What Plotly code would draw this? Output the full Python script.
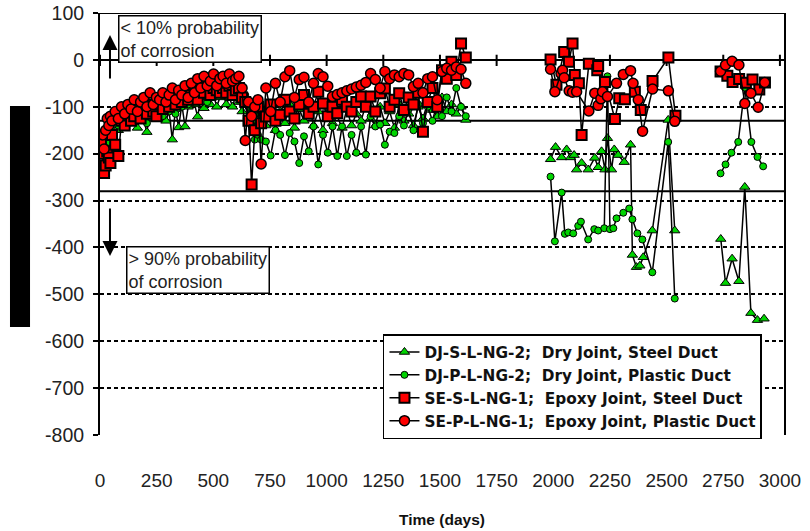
import plotly.graph_objects as go

# ---------------- data ----------------
days_early = [4, 11, 18, 25, 32, 39, 46, 53,
              67, 81, 95, 109, 123, 137,
              151, 165, 179, 193, 207, 221, 235, 249,
              263, 277, 291, 305, 319, 333, 347, 361, 375, 389,
              403, 417, 431, 445, 459, 473, 487, 501, 515, 529,
              543, 557, 571, 585, 599, 613, 627, 641, 655, 669, 683, 697,
              711, 732, 753, 774, 795, 816, 837, 858, 879, 900, 921, 942, 963, 984,
              1005, 1026, 1047, 1068, 1089, 1110, 1131, 1152, 1173, 1194, 1215, 1236,
              1257, 1278, 1299, 1320, 1341, 1362, 1383, 1404, 1425, 1446, 1467, 1488,
              1509, 1530, 1551, 1572, 1593, 1614]

djs_early = [-190, -175, -200, -165, -150, -170, -145, -160,
             -130, -150, -120, -145, -115, -135,
             -110, -145, -105, -130, -154, -110, -125, -100,
             -115, -100, -130, -110, -170, -105, -144, -95, -142, -100,
             -66, -95, -121, -80, -103, -70, -95, -75, -100, -80,
             -70, -95, -80, -100, -75, -90, -110, -85, -120, -100, -130, -115,
             -120, -140, -100, -150, -110, -135, -95, -145, -105, -130, -90, -140, -110, -150,
             -100, -135, -120, -145, -105, -140, -115, -130, -95, -125, -140, -100,
             -135, -110, -145, -95, -130, -115, -140, -100, -125, -90, -107, -121,
             -80, -110, -95, -115, -100, -128]
djs_late1_days = [1988, 2010, 2037, 2059, 2076, 2092, 2103, 2125, 2154, 2183,
                  2198, 2213, 2228, 2239, 2257, 2269, 2286, 2313, 2341, 2349,
                  2367, 2382, 2397, 2437, 2507, 2536]
djs_late1 = [-212, -186, -208, -191, -208, -203, -234, -220, -234, -209,
             -229, -195, -234, -167, -234, -191, -203, -218, -181, -416,
             -442, -439, -421, -364, -128, -364]
djs_late2_days = [2739, 2760, 2789, 2819, 2845, 2872, 2901, 2930]
djs_late2 = [-382, -476, -424, -472, -271, -540, -555, -552]

djp_early = [-180, -170, -195, -160, -155, -175, -140, -150,
             -125, -140, -115, -135, -110, -125,
             -105, -130, -100, -120, -135, -105, -115, -95,
             -100, -120, -90, -110, -85, -115, -95, -100, -80, -95,
             -70, -85, -60, -80, -65, -90, -55, -75, -60, -70,
             -55, -70, -50, -65, -60, -55, -70, -75, -100, -140, -170, -160,
             -170, -174, -204, -150, -160, -203, -156, -174, -220, -163, -195, -142, -223, -160,
             -198, -142, -205, -142, -205, -160, -198, -142, -202, -121, -142, -138,
             -181, -153, -156, -120, -140, -105, -150, -95, -135, -100, -130, -90,
             -120, -80, -110, -60, -100, -120]
djp_late1_days = [1988, 2007, 2037, 2051, 2066, 2088, 2110, 2122, 2154, 2181,
                  2198, 2225, 2239, 2250, 2265, 2279, 2309, 2335, 2349, 2371,
                  2393, 2437, 2507, 2536]
djp_late1 = [-249, -387, -283, -371, -368, -370, -354, -345, -383, -361,
             -364, -359, -35, -361, -359, -338, -326, -317, -340, -370,
             -383, -453, -175, -509]
djp_late2_days = [2738, 2760, 2786, 2816, 2845, 2874, 2901, 2926]
djp_late2 = [-242, -223, -198, -175, -59, -175, -207, -227]

ses_early = [-181, -200, -241, -225, -195, -208, -220, -160,
             -181, -205, -130, -140, -115, -130,
             -120, -105, -125, -100, -115, -95, -110, -120,
             -95, -105, -85, -100, -80, -95, -75, -90, -70, -85,
             -75, -65, -85, -60, -70, -55, -75, -60, -65, -70,
             -60, -70, -55, -75, -65, -60, -80, -90, -130, -266, -150, -100,
             -135, -121, -95, -130, -117, -85, -110, -125, -95, -75, -115, -100, -68, -93,
             -120, -100, -114, -85, -100, -110, -90, -78, -100, -78, -110, -71,
             -61, -100, -85, -71, -107, -80, -95, -70, -153, -90, -60, -100,
             -22, -40, -4, -32, 35, 5]
ses_late1_days = [1988, 2014, 2048, 2069, 2085, 2095, 2113, 2125, 2157, 2194,
                  2198, 2228, 2272, 2291, 2316, 2360, 2386, 2438, 2508, 2539]
ses_late1 = [1, -53, 17, -4, 35, -32, -50, -160, -8, -22,
             -13, -47, -126, -82, -84, -68, -107, -45, 5, -119]
ses_late2_days = [2738, 2768, 2791, 2820, 2850, 2879, 2909, 2934]
ses_late2 = [-25, -34, -47, -41, -49, -42, -63, -48]

sep_early = [-175, -160, -190, -150, -125, -140, -120, -130,
             -110, -125, -100, -115, -95, -105,
             -85, -110, -90, -80, -100, -70, -95, -80,
             -85, -70, -90, -75, -60, -85, -65, -75, -55, -80,
             -50, -70, -40, -60, -35, -55, -45, -30, -55, -40,
             -35, -50, -30, -45, -40, -35, -60, -172, -90, -120, -100, -85,
             -222, -60, -110, -50, -90, -36, -23, -80, -42, -37, -90, -50, -29, -36,
             -56, -78, -74, -70, -66, -62, -58, -54, -48, -29, -42, -60,
             -25, -40, -32, -36, -29, -32, -57, -50, -70, -40, -36, -85,
             -25, -18, -22, -15, -20, -50]
sep_late1_days = [1988, 2007, 2034, 2041, 2048, 2070, 2085, 2103, 2157, 2183,
                  2198, 2210, 2217, 2239, 2279, 2309, 2341, 2352, 2375, 2394,
                  2438, 2508, 2536]
sep_late1 = [-20, -68, -29, -22, -38, -66, -69, -68, -109, -71,
             -97, -83, -68, -78, -50, -31, -23, -50, -85, -152,
             -62, -66, -131]
sep_late2_days = [2738, 2760, 2789, 2819, 2845, 2872, 2904, 2933]
sep_late2 = [-24, -11, -3, -11, -93, -71, -101, -48]

series_names = ["DJ-S-L-NG-2;\u00a0 Dry Joint, Steel Duct",
                "DJ-P-L-NG-2;\u00a0 Dry Joint, Plastic Duct",
                "SE-S-L-NG-1;\u00a0 Epoxy Joint, Steel Duct",
                "SE-P-L-NG-1;\u00a0 Epoxy Joint, Plastic Duct"]

x_ticks = [0, 250, 500, 750, 1000, 1250, 1500, 1750, 2000, 2250, 2500, 2750, 3000]
y_ticks = [100, 0, -100, -200, -300, -400, -500, -600, -700, -800]
y_tick_labels = ["100", "0", "-100", "-200", "-300", "-400", "-500", "-600", "-700", "-800"]
thresholds = [-130, -280]

FONT = "Liberation Sans, Arial, sans-serif"
WIDE = "DejaVu Sans, Verdana, sans-serif"


def join(e, d1, v1, d2, v2):
    xs = list(days_early) + [None] + list(d1) + [None] + list(d2)
    ys = list(e) + [None] + list(v1) + [None] + list(v2)
    return xs, ys


GREEN = "#00d400"
RED = "#ff0000"
styles = [
    dict(symbol="triangle-up", size=9, color=GREEN, line=dict(color="black", width=1)),
    dict(symbol="circle", size=7, color=GREEN, line=dict(color="black", width=1)),
    dict(symbol="square", size=10, color=RED, line=dict(color="black", width=2)),
    dict(symbol="circle", size=10, color=RED, line=dict(color="black", width=1.5)),
]
data = [
    join(djs_early, djs_late1_days, djs_late1, djs_late2_days, djs_late2),
    join(djp_early, djp_late1_days, djp_late1, djp_late2_days, djp_late2),
    join(ses_early, ses_late1_days, ses_late1, ses_late2_days, ses_late2),
    join(sep_early, sep_late1_days, sep_late1, sep_late2_days, sep_late2),
]

fig = go.Figure()
for (xs, ys), name, mk in zip(data, series_names, styles):
    fig.add_trace(go.Scatter(x=xs, y=ys, name=name, mode="lines+markers",
                             line=dict(color="black", width=1.5), marker=mk))

shapes = []
# black strip on the left
shapes.append(dict(type="rect", xref="paper", yref="paper",
                   x0=-0.1316, x1=-0.1023, y0=0.256, y1=0.7796,
                   fillcolor="black", line=dict(width=0), layer="above"))
# axis line at zero, top border and threshold lines
for yv in [0, 100] + thresholds:
    shapes.append(dict(type="line", xref="paper", yref="y", x0=0, x1=1, y0=yv, y1=yv,
                       line=dict(color="black", width=2), layer="below"))
# tick marks crossing the zero line
for tv in x_ticks:
    shapes.append(dict(type="line", xref="x", yref="y", x0=tv, x1=tv, y0=-13, y1=11,
                       line=dict(color="black", width=2), layer="below"))

ann_font = dict(family=FONT, size=18, color="#222")
annotations = [
    dict(xref="paper", yref="paper", x=0.026, y=0.9953, xanchor="left", yanchor="top",
         text="< 10% probability<br>of corrosion", showarrow=False, align="left",
         font=ann_font, bgcolor="white", bordercolor="black", borderwidth=1.5, borderpad=1),
    dict(xref="paper", yref="paper", x=0.038, y=0.4478, xanchor="left", yanchor="top",
         text="> 90% probability<br>of corrosion", showarrow=False, align="left",
         font=ann_font, bgcolor="white", bordercolor="black", borderwidth=1.5, borderpad=1),
    dict(xref="paper", yref="paper", x=0.0146, y=0.9479, ax=0, ay=45,
         text="", showarrow=True, arrowhead=2,
         arrowsize=1.5, arrowwidth=2, arrowcolor="black"),
    dict(xref="paper", yref="paper", x=0.0146, y=0.4242, ax=0, ay=-49,
         text="", showarrow=True, arrowhead=2,
         arrowsize=1.5, arrowwidth=2, arrowcolor="black"),
]

fig.update_layout(
    width=810, height=531,
    margin=dict(l=100, r=26, t=13, b=96),
    paper_bgcolor="white", plot_bgcolor="white",
    font=dict(family=FONT, size=15, color="#222"),
    showlegend=True,
    legend=dict(x=0.4137, y=0.2393, xanchor="left", yanchor="top",
                bgcolor="white", bordercolor="black", borderwidth=1.5,
                font=dict(family=WIDE, size=15.3, color="#111", weight="bold"),
                itemwidth=30, tracegroupgap=0),
    shapes=shapes,
    annotations=annotations,
    xaxis=dict(range=[0, 3018], tickvals=x_ticks, showgrid=False, zeroline=False,
               showline=False, ticks="outside", ticklen=28, tickcolor="rgba(0,0,0,0)",
               tickfont=dict(size=19, color="#222"), automargin=False,
               title=dict(text="<b>Time (days)</b>", font=dict(size=15.5, color="#111"), standoff=24)),
    yaxis=dict(range=[-800, 100], tickvals=y_ticks, ticktext=y_tick_labels,
               showgrid=True, gridcolor="black",
               gridwidth=2, griddash="4px,3px", zeroline=False, showline=True, mirror=True,
               linecolor="black", linewidth=2, ticks="outside", ticklen=5, tickwidth=2,
               tickcolor="black", ticklabelstandoff=5, automargin=False,
               tickfont=dict(size=19.5, color="#222")),
)

fig.write_html("out.html")
